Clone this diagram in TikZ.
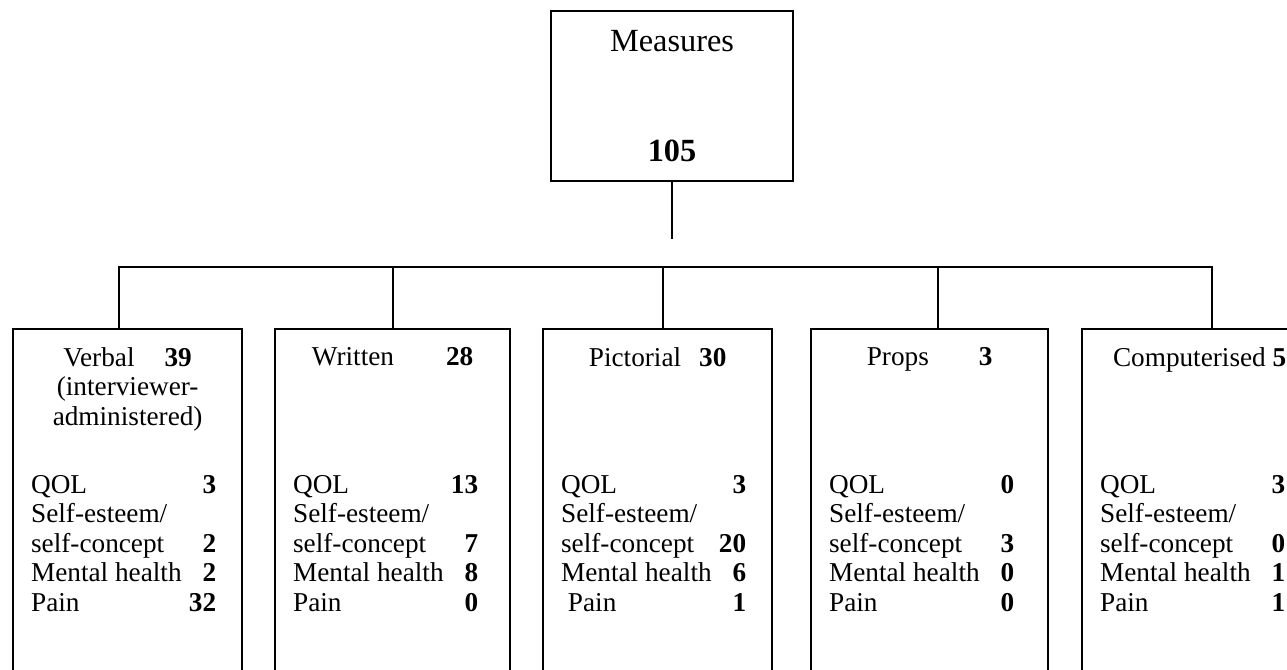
\documentclass[tikz,border=0pt]{standalone}
\usepackage{fontspec}
\setmainfont{Liberation Serif}
\usetikzlibrary{positioning}
\newcommand{\measrow}[2]{\makebox[3.3cm][l]{#1}\makebox[0.4cm][r]{\textbf{#2}}}

\begin{document}
\begin{tikzpicture}[line width=1.3pt, node distance=1cm,
    measbox/.style = {draw, minimum width=4.84cm, minimum height=3.4cm,
                      align=center, font=\fontsize{18.4}{22}\selectfont},
    catbox/.style = {draw, anchor=north west, minimum height=8cm},
    titletxt/.style = {inner sep=0pt, align=center, font=\fontsize{15.5}{16.8}\selectfont},
    listtxt/.style = {inner sep=0pt, align=left, font=\fontsize{15.5}{16.8}\selectfont}]
\useasboundingbox (0,0) rectangle (25.74,-13.38);
\clip (0,0) rectangle (25.74,-13.38);
\node[measbox] (measures) at (13.44,-1.92) {Measures\\[1.44cm]\textbf{105}};
\node[catbox, minimum width=4.58cm] (verbal) at (0.24,-6.56) {};
\node[catbox, minimum width=4.7cm] (written) at (5.48,-6.56) {};
\node[catbox, minimum width=4.58cm] (pictorial) at (10.84,-6.56) {};
\node[catbox, minimum width=4.74cm] (props) at (16.2,-6.56) {};
\node[catbox, minimum width=4.7cm] (computerised) at (21.62,-6.56) {};
% headings
\node[titletxt, below=0.36cm of verbal.north] (verbaltitle) {Verbal\hspace{0.6cm}\textbf{39}\\(interviewer-\\administered)};
\node[titletxt, below=0.36cm of written.north] (writtentitle) {Written\hspace{1.04cm}\textbf{28}};
\node[titletxt, below=0.36cm of pictorial.north] (pictorialtitle) {Pictorial\hspace{0.36cm}\textbf{30}};
\node[titletxt, below=0.36cm of props.north] (propstitle) {Props\hspace{1cm}\textbf{3}};
\node[titletxt, below=0.36cm of computerised.north] (computerisedtitle) {Computerised \textbf{5}};
% counts
\node[listtxt, below right=2.92cm and 0.36cm of verbal.north west] (verballist)
    {\measrow{QOL}{3}\\Self-esteem/\\\measrow{self-concept}{2}\\\measrow{Mental health}{2}\\\measrow{Pain}{32}};
\node[listtxt, below right=2.92cm and 0.36cm of written.north west] (writtenlist)
    {\measrow{QOL}{13}\\Self-esteem/\\\measrow{self-concept}{7}\\\measrow{Mental health}{8}\\\measrow{Pain}{0}};
\node[listtxt, below right=2.92cm and 0.36cm of pictorial.north west] (pictoriallist)
    {\measrow{QOL}{3}\\Self-esteem/\\\measrow{self-concept}{20}\\\measrow{Mental health}{6}\\\measrow{\ Pain}{1}};
\node[listtxt, below right=2.92cm and 0.36cm of props.north west] (propslist)
    {\measrow{QOL}{0}\\Self-esteem/\\\measrow{self-concept}{3}\\\measrow{Mental health}{0}\\\measrow{Pain}{0}};
\node[listtxt, below right=2.92cm and 0.36cm of computerised.north west] (computerisedlist)
    {\measrow{QOL}{3}\\Self-esteem/\\\measrow{self-concept}{0}\\\measrow{Mental health}{1}\\\measrow{Pain}{1}};
% tree lines
\coordinate (gapend) at (13.44,-4.78);
\draw (measures.south) -- (gapend);
\draw ([xshift=-0.17cm]verbal.north) -- ++(0,1.22) -| ([xshift=0.25cm]computerised.north);
\draw (written.north) -- ++(0,1.22);
\draw ([xshift=0.11cm]pictorial.north) -- ++(0,1.22);
\draw ([xshift=0.17cm]props.north) -- ++(0,1.22);
\end{tikzpicture}
\end{document}
